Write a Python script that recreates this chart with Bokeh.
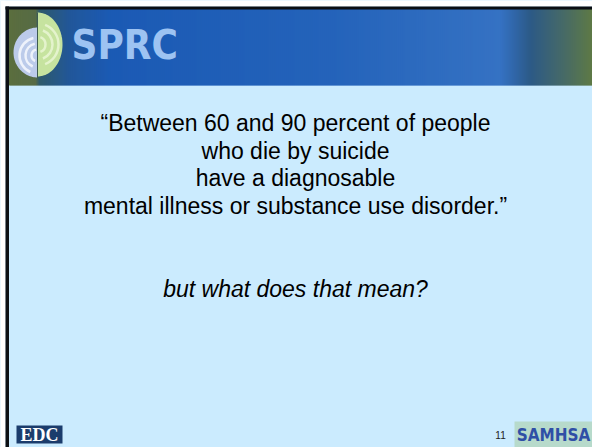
import numpy as np
from bokeh.plotting import figure
from bokeh.models import Range1d
from bokeh.core.properties import value
from bokeh.embed import file_html
from bokeh.resources import INLINE

# ---- slide content ----
quote_lines = [
    "\u201cBetween 60 and 90 percent of people",
    "who die by suicide",
    "have a diagnosable",
    "mental illness or substance use disorder.\u201d",
]
question_line = "but what does that mean?"
logo_text = "SPRC"
footer_left = "EDC"
footer_right = "SAMHSA"
page_number = "11"

W, H = 592, 447
p = figure(width=W, height=H, output_backend="svg", toolbar_location=None,
           x_range=Range1d(0, 592), y_range=Range1d(447, 0),
           min_border=0, outline_line_color=None,
           background_fill_color="#CBEBFE", border_fill_color="#CBEBFE")
p.axis.visible = False
p.grid.visible = False

# white page edge
p.quad(left=0, right=592, top=0, bottom=6, fill_color="#FFFFFF", line_color=None)
p.quad(left=0, right=5, top=0, bottom=447, fill_color="#FFFFFF", line_color=None)

# ---- header gradient band ----
stops_x = [8, 36, 38, 70, 110, 330, 500, 514, 530, 560, 592]
stops_c = ["#5B6E3E", "#566B45", "#2F5A6A", "#21579A", "#1B5AB4",
           "#2463BA", "#3572C3", "#3066A8", "#2C5A86", "#44686A", "#5E7A45"]
def hex2rgb(h):
    return np.array([int(h[i:i + 2], 16) for i in (1, 3, 5)], float)
rgb = np.array([hex2rgb(c) for c in stops_c])
xs = np.arange(8, 592, 2.0)
cols = []
for x in xs + 1:
    r = [np.interp(x, stops_x, rgb[:, k]) for k in range(3)]
    cols.append("#%02x%02x%02x" % tuple(int(round(v)) for v in r))
p.quad(left=xs, right=xs + 3, top=8, bottom=85, fill_color=cols, line_color=None)

# borders
p.quad(left=5, right=592, top=6, bottom=9, fill_color="#0B0F14", line_color=None)
p.quad(left=5, right=8.5, top=6, bottom=447, fill_color="#0B0F14", line_color=None)

# ---- logo ----
t = np.linspace(-np.pi / 2, np.pi / 2, 60)
gx = 37 + 25 * np.cos(t)
gy = 44 + 32 * np.sin(t)
p.patch(np.r_[gx, 37], np.r_[gy, gy[0]], fill_color="#C6E39F", line_color=None)
for rr in (8, 15, 21):
    p.arc(x=37, y=44, radius=rr, start_angle=-1.2, end_angle=1.2,
          line_color="#E4F3CC", line_width=2.5)
t2 = np.linspace(np.pi / 2, 3 * np.pi / 2, 60)
bx = 37 + 24 * np.cos(t2)
by = 52 + 25 * np.sin(t2)
p.patch(np.r_[bx, 37], np.r_[by, by[0]], fill_color="#BCCBEA", line_color=None)
for rr in (6, 12, 18):
    p.arc(x=37, y=55, radius=rr, start_angle=1.8, end_angle=4.3,
          line_color="#EEF2FB", line_width=2.5)
p.line(x=[37, 37], y=[12, 78], line_color="#3D5A50", line_width=1)

p.text(x=[71], y=[44], text=[logo_text], text_font=value("DejaVu Sans Condensed"),
       text_font_style="bold", text_font_size="40px", text_color="#9DC3F2",
       text_align="left", text_baseline="middle")

# ---- body text ----
ys = [122, 150, 177, 205]
p.text(x=[295] * 4, y=ys, text=quote_lines, text_font=value("Liberation Sans"),
       text_font_size="23px", text_color="#000000", text_align="center",
       text_baseline="middle")
p.text(x=[295], y=[288], text=[question_line], text_font=value("Liberation Sans"),
       text_font_style="italic", text_font_size="23px", text_color="#000000",
       text_align="center", text_baseline="middle")

# ---- footer ----
p.quad(left=16, right=62, top=425, bottom=443, fill_color="#1B3C6C", line_color=None)
p.text(x=[39], y=[434], text=[footer_left], text_font=value("Liberation Serif"),
       text_font_style="bold", text_font_size="18px", text_color="#FFFFFF",
       text_align="center", text_baseline="middle")

p.text(x=[500], y=[434], text=[page_number], text_font=value("Liberation Sans"),
       text_font_size="10px", text_color="#222222", text_align="center",
       text_baseline="middle")

p.quad(left=514, right=592, top=421, bottom=447, fill_color="#B7DACB", line_color=None)
p.text(x=[553], y=[434], text=[footer_right], text_font=value("DejaVu Sans Condensed"),
       text_font_style="bold", text_font_size="17px", text_color="#2F4FA6",
       text_align="center", text_baseline="middle")

open("out.html", "w").write(file_html(p, INLINE))
